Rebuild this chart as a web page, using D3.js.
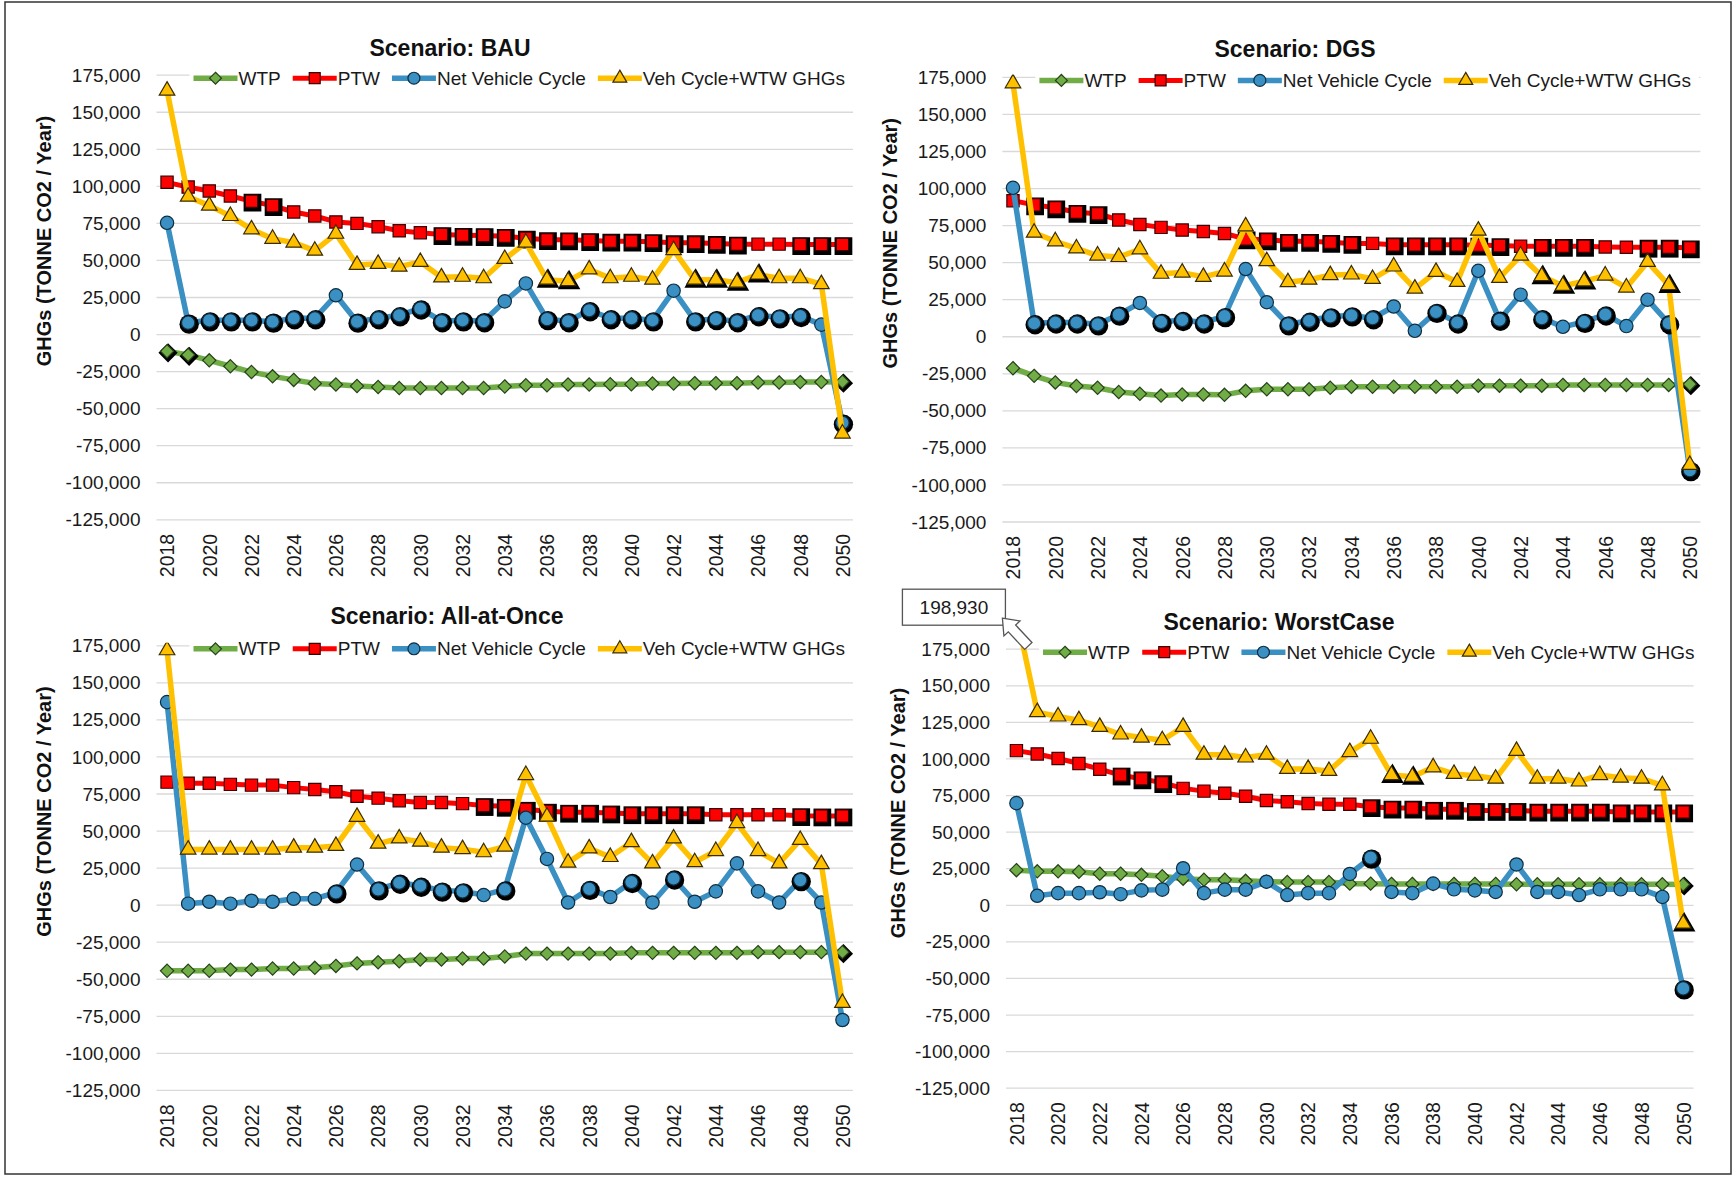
<!DOCTYPE html>
<html>
<head>
<meta charset="utf-8">
<script src="https://cdn.jsdelivr.net/npm/d3@7"></script>
<style>
body { margin: 0; background: #fff; }
text { font-family: "Liberation Sans", Arial, sans-serif; }
</style>
</head>
<body>
<script>
var years = [2018, 2019, 2020, 2021, 2022, 2023, 2024, 2025, 2026, 2027, 2028, 2029, 2030, 2031, 2032, 2033,
    2034, 2035, 2036, 2037, 2038, 2039, 2040, 2041, 2042, 2043, 2044, 2045, 2046, 2047, 2048, 2049, 2050];
var yearTicks = [2018, 2020, 2022, 2024, 2026, 2028, 2030, 2032, 2034, 2036, 2038, 2040, 2042, 2044, 2046, 2048, 2050];
var yTicks = [175000, 150000, 125000, 100000, 75000, 50000, 25000, 0, -25000, -50000, -75000, -100000, -125000];
var seriesNames = ["WTP", "PTW", "Net Vehicle Cycle", "Veh Cycle+WTW GHGs"];
var scenarios = ["BAU", "DGS", "All-at-Once", "WorstCase"];

// Scenario: BAU
var bauWTP = [-11300, -13700, -17400, -21400, -25300, -28200, -30600, -33000, -33700, -34700, -35400, -36100, -36100, -36100, -36100, -36100,
    -35000, -34200, -34200, -33700, -33700, -33500, -33500, -33000, -33000, -32800, -32800, -32800, -32300, -32300, -32100, -32000, -31800];
var bauPTW = [102700, 99500, 96900, 93500, 90000, 87000, 82700, 80000, 76000, 75000, 72800, 70000, 68700, 67500, 67000, 66800,
    66300, 65000, 64000, 63900, 63400, 63000, 63000, 62700, 62000, 62000, 61500, 61000, 61000, 61000, 60700, 60700, 60700];
var bauNet = [75400, 8000, 9600, 9600, 9600, 8700, 11000, 11000, 26500, 8700, 11000, 13000, 17600, 9000, 9600, 9000,
    22400, 34500, 10400, 9000, 16400, 11000, 11000, 9600, 29600, 9600, 10400, 9000, 13000, 11600, 12500, 6700, -59500];
var bauTotal = [164600, 93000, 87000, 80000, 71000, 64600, 62000, 56600, 68000, 47000, 47700, 45800, 49000, 38600, 39000, 38000,
    51000, 62000, 37000, 36000, 44000, 38000, 39000, 37000, 57000, 37000, 37000, 35000, 40500, 38000, 38000, 34000, -66800];

// Scenario: DGS
var dgsWTP = [-21200, -26400, -30800, -33200, -34400, -37300, -38500, -39700, -39000, -39000, -39200, -36500, -35400, -35400, -35400, -34400,
    -33700, -33700, -33700, -33700, -33700, -33700, -33000, -33000, -33000, -33000, -32500, -32500, -32500, -32500, -32500, -32500, -32000];
var dgsPTW = [91800, 89000, 87000, 84000, 83000, 78800, 75700, 73800, 72000, 71000, 69700, 66000, 65400, 64400, 64400, 63700,
    63000, 63000, 62000, 62000, 62000, 62000, 61800, 61500, 61000, 61000, 61000, 61000, 60600, 60400, 60400, 60400, 60000];
var dgsNet = [100500, 9100, 9600, 9600, 8400, 14900, 22800, 10000, 11300, 9600, 13900, 45700, 23300, 8400, 10800, 13700,
    14400, 12500, 20400, 4000, 16800, 9600, 44500, 11500, 28400, 12500, 6700, 10000, 15000, 7200, 25000, 9100, -90000];
var dgsTotal = [171000, 70200, 64400, 59600, 54800, 53800, 59000, 42500, 43300, 40400, 44000, 74500, 51000, 36800, 38500, 41600,
    42000, 39000, 47400, 32500, 43800, 37000, 71600, 39700, 54800, 40900, 34400, 37300, 41300, 33200, 50500, 34900, -86500];

// Scenario: All-at-Once
var aaoWTP = [-44300, -44300, -44300, -43500, -43500, -42800, -42800, -42300, -41000, -39300, -38500, -37800, -36700, -36700, -36000, -36000,
    -34700, -32700, -32700, -32700, -32700, -32700, -32200, -32200, -32200, -32200, -32200, -32200, -31700, -31700, -31700, -31700, -31700];
var aaoPTW = [83000, 82300, 82300, 81500, 81000, 81000, 79300, 78000, 76500, 73500, 72200, 70500, 69200, 69200, 68500, 67200,
    66700, 64700, 63400, 62700, 62700, 62200, 61700, 61700, 61700, 61700, 61000, 61000, 61000, 61000, 60400, 60200, 60200];
var aaoNet = [137000, 1000, 2300, 1000, 3000, 2300, 4300, 4300, 8600, 27400, 10600, 15100, 13100, 9800, 9300, 6800,
    10600, 59000, 31200, 1800, 11000, 5500, 15600, 1800, 18000, 2300, 9300, 28200, 9300, 1800, 16900, 1800, -77500];
var aaoTotal = [172000, 37500, 37500, 37500, 37500, 37500, 38800, 38800, 40000, 59600, 41500, 45000, 42800, 38800, 37800, 35700,
    39500, 87800, 59700, 28700, 38300, 32500, 42500, 28200, 45000, 29000, 36500, 55400, 36500, 28200, 44000, 27700, -66000];

// Scenario: WorstCase
var wcWTP = [24000, 23200, 23200, 22900, 21600, 21600, 20800, 19800, 18200, 17400, 17400, 16700, 16100, 15900, 15900, 15900,
    14800, 14800, 14600, 14600, 14600, 14600, 14600, 14600, 14400, 14400, 14400, 14400, 14400, 14400, 14400, 14400, 14200];
var wcPTW = [105700, 103400, 100300, 96900, 93000, 89000, 86400, 83800, 79900, 78000, 76600, 74500, 71600, 70800, 69500, 69000,
    69000, 67400, 66400, 66400, 65600, 65600, 64800, 64800, 64800, 64300, 64300, 64300, 64300, 63800, 63800, 63800, 63800];
var wcNet = [69800, 6500, 8300, 8300, 8900, 7600, 10200, 10700, 25300, 8300, 10700, 10700, 16100, 7000, 8300, 8300,
    21400, 32600, 9100, 8300, 14800, 10900, 10200, 9100, 27900, 9100, 9100, 7000, 10900, 10900, 10900, 5700, -56800];
var wcTotal = [198930, 132000, 129000, 126500, 121900, 116700, 114600, 112800, 121900, 102900, 102900, 101000, 102900, 93200, 93200, 91800,
    104700, 113800, 89000, 87800, 94300, 89800, 88500, 86500, 105500, 86500, 86500, 84600, 89000, 87200, 86500, 82000, -12500];

// years whose markers carry the dark halo, per series (WTP, PTW, Net, Total)
var shadowBAU = [
    [2018, 2019, 2050],
    [2022, 2023, 2031, 2032, 2033, 2034, 2035, 2036, 2037, 2038, 2039, 2040, 2041, 2042, 2043, 2044, 2045, 2048, 2049, 2050],
    [2019, 2020, 2021, 2022, 2023, 2024, 2025, 2027, 2028, 2029, 2030, 2031, 2032, 2033, 2036, 2037, 2038, 2039, 2040, 2041,
        2043, 2044, 2045, 2046, 2047, 2048, 2050],
    [2036, 2037, 2043, 2044, 2045, 2046]
];
var shadowDGS = [
    [2050],
    [2019, 2020, 2021, 2022, 2029, 2030, 2031, 2032, 2033, 2034, 2036, 2037, 2038, 2039, 2040, 2041, 2043, 2044, 2045, 2048, 2049, 2050],
    [2019, 2020, 2021, 2022, 2023, 2025, 2026, 2027, 2028, 2031, 2032, 2033, 2034, 2035, 2038, 2039, 2041, 2043, 2045, 2046, 2049, 2050],
    [2043, 2044, 2045, 2049]
];
var shadowAAO = [
    [2050],
    [2033, 2034, 2035, 2036, 2037, 2038, 2039, 2040, 2041, 2042, 2043, 2048, 2049, 2050],
    [2026, 2028, 2029, 2030, 2031, 2032, 2034, 2038, 2040, 2042, 2048],
    []
];
var shadowWC = [
    [2050],
    [2023, 2024, 2025, 2035, 2036, 2037, 2038, 2039, 2040, 2041, 2042, 2043, 2044, 2045, 2046, 2047, 2048, 2049, 2050],
    [2035, 2050],
    [2036, 2037, 2050]
];

var width = 1734;
var height = 1177;

var panels = [
    { name: scenarios[0], series: [bauWTP, bauPTW, bauNet, bauTotal], shadows: shadowBAU,
      left: 156.5, right: 853, top: 75.2, bottom: 519.8, titleX: 450, titleY: 48, axisX: 44 },
    { name: scenarios[1], series: [dgsWTP, dgsPTW, dgsNet, dgsTotal], shadows: shadowDGS,
      left: 1002.4, right: 1700.4, top: 77.4, bottom: 522, titleX: 1295, titleY: 49, axisX: 890 },
    { name: scenarios[2], series: [aaoWTP, aaoPTW, aaoNet, aaoTotal], shadows: shadowAAO,
      left: 156.5, right: 853, top: 645.8, bottom: 1090.4, titleX: 447, titleY: 616, axisX: 44 },
    { name: scenarios[3], series: [wcWTP, wcPTW, wcNet, wcTotal], shadows: shadowWC,
      left: 1006, right: 1693.6, top: 649.2, bottom: 1088.2, titleX: 1279, titleY: 622, axisX: 898 }
];

// square diamond like Excel's marker
var symbolRhomb = {
    draw: function (ctx, size) {
        var r = Math.sqrt(size / 2);
        ctx.moveTo(0, -r);
        ctx.lineTo(r, 0);
        ctx.lineTo(0, r);
        ctx.lineTo(-r, 0);
        ctx.closePath();
    }
};

var colors = ["#70ad47", "#ff0000", "#3a8fc3", "#ffc000"];
var strokes = ["#27401a", "#3a0000", "#0f2e40", "#3a2c00"];
var lineWidths = [5.5, 5, 5.5, 5.5];
var symbols = [symbolRhomb, d3.symbolSquare, d3.symbolCircle, d3.symbolTriangle];
var symSizes = [88, 150, 140, 105];

var fmt = d => d3.format(",")(d).replace("\u2212", "-");

let svg = d3.select('body').append('svg');
svg.attr('width', width)
    .attr('height', height);

svg.append("rect")
    .attr("x", 5).attr("y", 2)
    .attr("width", 1726).attr("height", 1172)
    .attr("fill", "none")
    .attr("stroke", "#333")
    .attr("stroke-width", 1.5);

var drawPanel = function (p, pi) {
    var g = svg.append("g");

    var x = d3.scalePoint()
        .domain(years)
        .range([p.left, p.right])
        .padding(0.5);

    var y = d3.scaleLinear()
        .domain([-125000, 175000])
        .range([p.bottom, p.top]);

    // gridlines
    g.append("g")
        .selectAll("line")
        .data(yTicks)
        .join("line")
        .attr("x1", p.left)
        .attr("x2", p.right)
        .attr("y1", d => y(d))
        .attr("y2", d => y(d))
        .attr("stroke", "#d9d9d9")
        .attr("stroke-width", 1.3);

    var yAxis = g => g
        .attr("transform", `translate(${p.left},0)`)
        .call(d3.axisLeft(y).tickValues(yTicks).tickFormat(fmt).tickSize(0).tickPadding(16))
        .call(g => g.select(".domain").remove());

    var xAxis = g => g
        .attr("transform", `translate(0,${p.bottom})`)
        .call(d3.axisBottom(x).tickValues(yearTicks).tickSize(0))
        .call(g => g.select(".domain").remove())
        .call(g => g.selectAll("text")
            .attr("transform", "rotate(-90)")
            .attr("text-anchor", "end")
            .attr("x", -14)
            .attr("y", 0)
            .attr("dy", "0.35em"));

    g.append("g").call(yAxis)
        .attr("font-family", null).attr("font-size", 19)
        .selectAll("text").attr("fill", "#1a1a1a");
    g.append("g").call(xAxis)
        .attr("font-family", null).attr("font-size", 19.5)
        .selectAll("text").attr("fill", "#1a1a1a");

    // clip at top of the plot area
    var clipId = "clip" + pi;
    svg.append("clipPath").attr("id", clipId)
        .append("rect")
        .attr("x", p.left - 40)
        .attr("y", p.top - 3)
        .attr("width", p.right - p.left + 80)
        .attr("height", p.bottom - p.top + 40);

    var plot = g.append("g").attr("clip-path", `url(#${clipId})`);

    var line = d3.line()
        .x((d, j) => x(years[j]))
        .y(d => y(d));

    p.series.forEach(function (vals, si) {
        plot.append("path")
            .datum(vals)
            .attr("fill", "none")
            .attr("stroke", colors[si])
            .attr("stroke-width", lineWidths[si])
            .attr("stroke-linejoin", "round")
            .attr("d", line);

        plot.append("g")
            .selectAll("path")
            .data(p.shadows[si])
            .join("path")
            .attr("d", d3.symbol(symbols[si], symSizes[si] * 2.1))
            .attr("transform", d => `translate(${x(d) + 1},${y(vals[years.indexOf(d)]) + 1.5})`)
            .attr("fill", "#000");

        plot.append("g")
            .selectAll("path")
            .data(vals)
            .join("path")
            .attr("d", d3.symbol(symbols[si], symSizes[si]))
            .attr("transform", (d, j) => `translate(${x(years[j])},${y(d)})`)
            .attr("fill", colors[si])
            .attr("stroke", strokes[si])
            .attr("stroke-width", 1.2);
    });

    // legend
    var leg = g.append("g").attr("transform", `translate(${p.left + 37},${p.top + 3})`);
    var bg = leg.append("rect").attr("fill", "#fff");
    var cx = 0;
    seriesNames.forEach(function (s, si) {
        var it = leg.append("g").attr("transform", `translate(${cx},0)`);
        it.append("line")
            .attr("x1", 0).attr("x2", 44)
            .attr("stroke", colors[si])
            .attr("stroke-width", lineWidths[si]);
        it.append("path")
            .attr("d", d3.symbol(symbols[si], symSizes[si] * 0.8))
            .attr("transform", "translate(22,0)")
            .attr("fill", colors[si])
            .attr("stroke", strokes[si])
            .attr("stroke-width", 1.2);
        var t = it.append("text")
            .attr("x", 45)
            .attr("dy", "0.35em")
            .attr("font-size", 19)
            .attr("fill", "#1a1a1a")
            .text(s);
        cx += 45 + t.node().getComputedTextLength() + 12;
    });
    bg.attr("x", -4).attr("y", -12).attr("width", cx).attr("height", 24);

    // title
    g.append("text")
        .attr("x", p.titleX)
        .attr("y", p.titleY)
        .attr("dy", "0.35em")
        .attr("text-anchor", "middle")
        .attr("font-size", 23)
        .attr("font-weight", "bold")
        .attr("fill", "#111")
        .text("Scenario: " + p.name);

    // y axis title
    g.append("text")
        .attr("transform", `translate(${p.axisX},${p.top + 0.373 * (p.bottom - p.top)}) rotate(-90)`)
        .attr("text-anchor", "middle")
        .attr("dy", "0.35em")
        .attr("font-size", 20)
        .attr("font-weight", "bold")
        .attr("fill", "#111")
        .text("GHGs (TONNE CO2 / Year)");

    return { x: x, y: y, g: g };
};

var drawn = panels.map(drawPanel);

// callout for the off-scale WorstCase value
var wc = drawn[3];
var cg = svg.append("g");
var bx = wc.x(years[0]) - 114, by = panels[3].top - 60;
cg.append("rect")
    .attr("x", bx).attr("y", by)
    .attr("width", 103).attr("height", 36)
    .attr("fill", "#fff")
    .attr("stroke", "#555")
    .attr("stroke-width", 1.3);
cg.append("text")
    .attr("x", bx + 51.5).attr("y", by + 18)
    .attr("dy", "0.35em")
    .attr("text-anchor", "middle")
    .attr("font-size", 19)
    .attr("fill", "#1a1a1a")
    .text(fmt(wcTotal[0]));
cg.append("path")
    .attr("d", "M0,0 L14,-11 L14,-5 L38,-5 L38,5 L14,5 L14,11 Z")
    .attr("transform", `translate(${bx + 100},${by + 29}) rotate(47)`)
    .attr("fill", "#fff")
    .attr("stroke", "#555")
    .attr("stroke-width", 1.3);
</script>
</body>
</html>
